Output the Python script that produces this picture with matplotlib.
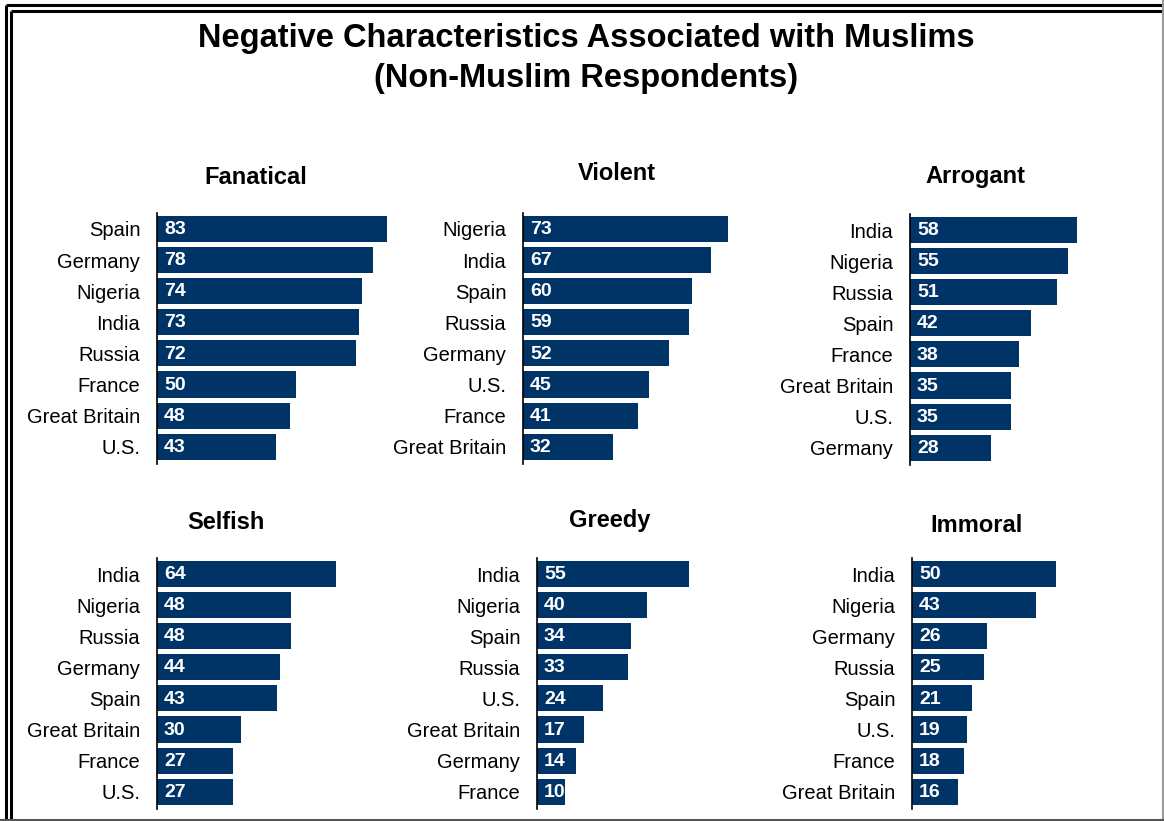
import matplotlib
matplotlib.use("Agg")
import matplotlib.pyplot as plt
from matplotlib.lines import Line2D

plt.rcParams['font.family'] = ['Liberation Sans', 'DejaVu Sans']

W, H = 1164, 821

titles = ["Fanatical", "Violent", "Arrogant", "Selfish", "Greedy", "Immoral"]

fanatical_countries = ["Spain", "Germany", "Nigeria", "India", "Russia", "France", "Great Britain", "U.S."]
fanatical_values = [83, 78, 74, 73, 72, 50, 48, 43]

violent_countries = ["Nigeria", "India", "Spain", "Russia", "Germany", "U.S.", "France", "Great Britain"]
violent_values = [73, 67, 60, 59, 52, 45, 41, 32]

arrogant_countries = ["India", "Nigeria", "Russia", "Spain", "France", "Great Britain", "U.S.", "Germany"]
arrogant_values = [58, 55, 51, 42, 38, 35, 35, 28]

selfish_countries = ["India", "Nigeria", "Russia", "Germany", "Spain", "Great Britain", "France", "U.S."]
selfish_values = [64, 48, 48, 44, 43, 30, 27, 27]

greedy_countries = ["India", "Nigeria", "Spain", "Russia", "U.S.", "Great Britain", "Germany", "France"]
greedy_values = [55, 40, 34, 33, 24, 17, 14, 10]

immoral_countries = ["India", "Nigeria", "Germany", "Russia", "Spain", "U.S.", "France", "Great Britain"]
immoral_values = [50, 43, 26, 25, 21, 19, 18, 16]

panels = [
    (fanatical_countries, fanatical_values),
    (violent_countries, violent_values),
    (arrogant_countries, arrogant_values),
    (selfish_countries, selfish_values),
    (greedy_countries, greedy_values),
    (immoral_countries, immoral_values),
]

# layout in pixels: (axis x, first bar center y, px per unit, title center x, title center y)
layout = [
    (157, 229, 2.77, 256, 177),
    (523, 229, 2.81, 617, 174),
    (910, 230, 2.88, 975, 177),
    (157, 574, 2.80, 226, 522),
    (537, 574, 2.76, 610, 520),
    (912, 574, 2.88, 976, 525),
]

BAR = "#003366"
STEP = 31.1
XMAX = 90
TOPM, BOTM = 0.52, 0.55

fig = plt.figure(figsize=(W / 100, H / 100), dpi=100)
fig.patch.set_facecolor("white")

for (cats, vals), title, (x0, c0, sc, tx, ty) in zip(panels, titles, layout):
    top = c0 - TOPM * STEP
    hgt = (7 + TOPM + BOTM) * STEP
    ax = fig.add_axes([x0 / W, 1 - (top + hgt) / H, XMAX * sc / W, hgt / H])
    y = list(range(len(cats)))
    ax.barh(y, vals, height=0.84, color=BAR)
    ax.set_ylim(7 + BOTM, -TOPM)
    ax.set_xlim(0, XMAX)
    ax.set_yticks(y)
    ax.set_yticklabels(cats, fontsize=14.5, color="black")
    ax.tick_params(axis="y", length=0, pad=12)
    ax.set_xticks([])
    for s in ["top", "right", "bottom"]:
        ax.spines[s].set_visible(False)
    ax.spines["left"].set_color("black")
    ax.spines["left"].set_linewidth(1.2)
    ax.set_facecolor("none")
    for yi, v in zip(y, vals):
        ax.annotate(str(v), xy=(0, yi), xytext=(5, -0.5), textcoords="offset points",
                    ha="left", va="center", color="white", fontsize=14,
                    fontweight="bold")
    fig.text(tx / W, 1 - ty / H, title, ha="center", va="center",
             fontsize=17, fontweight="bold")

fig.text(586 / W, 1 - 38 / H, "Negative Characteristics Associated with Muslims",
         ha="center", va="center", fontsize=23.5, fontweight="bold")
fig.text(586 / W, 1 - 78 / H, "(Non-Muslim Respondents)",
         ha="center", va="center", fontsize=23.5, fontweight="bold")

def fline(xs, ys, color="black", lw=2.0):
    fig.add_artist(Line2D([x / W for x in xs], [1 - yv / H for yv in ys],
                          color=color, linewidth=lw, transform=fig.transFigure,
                          solid_capstyle="butt"))

# double border (outer & inner) on left and top, grey edges at right/bottom
fline([5.5, 5.5], [5.5, H], lw=2.2)
fline([5.5, W], [5.5, 5.5], lw=2.2)
fline([11, 11], [11, H], lw=2.2)
fline([11, W], [11, 11], lw=2.2)
fline([W - 1, W - 1], [0, H], color="#999999", lw=1.5)
fline([0, W], [H - 1.5, H - 1.5], color="#555555", lw=1.5)

fig.savefig("out.png", dpi=100)
